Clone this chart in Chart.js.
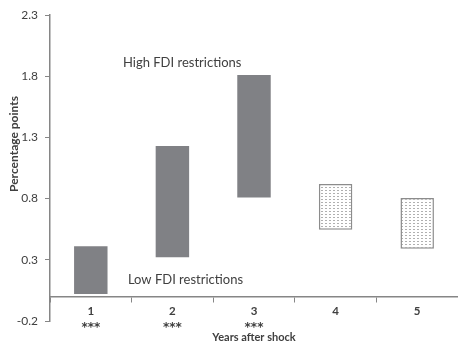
<!DOCTYPE html>
<html>
<head>
<meta charset="utf-8">
<script src="https://cdn.jsdelivr.net/npm/chart.js@4/dist/chart.umd.min.js"></script>
<style>
  html, body { margin: 0; padding: 0; background: #ffffff; }
  #wrap { width: 458px; height: 343px; position: relative; }
</style>
</head>
<body>
<div id="wrap"><canvas id="chart" width="458" height="343"></canvas></div>
<script>
// Years after the shock, with significance stars under each year
const years = ['1', '2', '3', '4', '5'];
const significance = ['***', '***', '***', '', ''];

// Range of the effect: low-FDI-restriction end and high-FDI-restriction end
const lowRestriction = [0.02, 0.32, 0.81, 0.545, 0.39];
const highRestriction = [0.41, 1.23, 1.81, 0.92, 0.805];

// Whether the difference for that year is significant (solid) or not (dotted)
const solidBar = [true, true, true, false, false];

// Value axis ticks
const yTicks = [-0.2, 0.3, 0.8, 1.3, 1.8, 2.3];

const textColor = '#404040';
const axisColor = '#868686';
const barGray = '#808185';

// Dotted fill for the non-significant years
function dottedPattern() {
  const c = document.createElement('canvas');
  c.width = 4; c.height = 3;
  const g = c.getContext('2d');
  g.fillStyle = '#ffffff';
  g.fillRect(0, 0, 4, 3);
  g.fillStyle = '#b0b0b0';
  g.fillRect(1, 1, 2, 1);
  return g.createPattern(c, 'repeat');
}
const dots = dottedPattern();

const ranges = years.map((y, i) => [lowRestriction[i], highRestriction[i]]);

// Text labels at the ends of the ranges, significance stars and the y-axis title
const notesPlugin = {
  id: 'notes',
  afterDraw(chart) {
    const { ctx, scales } = chart;
    ctx.save();
    ctx.fillStyle = textColor;
    ctx.textAlign = 'center';
    ctx.textBaseline = 'middle';
    ctx.font = '13px Lato';
    ctx.fillText('High FDI restrictions', scales.x.getPixelForValue(1.12), scales.y.getPixelForValue(1.91));
    ctx.fillText('Low FDI restrictions', scales.x.getPixelForValue(1.16), scales.y.getPixelForValue(0.135));

    ctx.font = 'bold 12px "DejaVu Sans"';
    ctx.textBaseline = 'alphabetic';
    const starY = scales.y.getPixelForValue(0) + 34;
    significance.forEach((s, i) => {
      if (s) ctx.fillText(s, scales.x.getPixelForValue(i), starY);
    });

    ctx.textBaseline = 'middle';
    ctx.translate(14, 144);
    ctx.rotate(-Math.PI / 2);
    ctx.font = 'bold 12px Lato';
    ctx.fillText('Percentage points', 0, 0);
    ctx.restore();
  }
};

new Chart(document.getElementById('chart'), {
  type: 'bar',
  data: {
    labels: years,
    datasets: [{
      data: ranges,
      backgroundColor: solidBar.map(s => s ? barGray : dots),
      borderColor: solidBar.map(s => s ? barGray : '#8c8c8c'),
      borderWidth: solidBar.map(s => s ? 0 : 1.5),
      borderSkipped: false,
      barPercentage: 0.41,
      categoryPercentage: 1.0
    }]
  },
  options: {
    responsive: false,
    animation: false,
    devicePixelRatio: 1,
    layout: { padding: { top: 15, bottom: 22, left: 0, right: 0 } },
    plugins: {
      legend: { display: false },
      tooltip: { enabled: false }
    },
    scales: {
      x: {
        position: { y: 0 },
        offset: true,
        grid: {
          offset: true,
          drawOnChartArea: false,
          drawTicks: true,
          tickLength: 5,
          color: axisColor
        },
        border: { color: axisColor, width: 1.5 },
        ticks: {
          color: textColor,
          font: { family: 'Lato', size: 11.5, weight: 'bold', lineHeight: 1.2 },
          padding: 3,
          maxRotation: 0
        },
        title: {
          display: true,
          text: 'Years after shock',
          color: textColor,
          font: { family: 'Lato', size: 11, weight: 'bold' },
          padding: { top: 9.5, bottom: 0 }
        }
      },
      y: {
        min: yTicks[0],
        max: yTicks[yTicks.length - 1],
        afterBuildTicks: s => { s.ticks = yTicks.map(v => ({ value: v })); },
        afterFit: s => { s.width = 50; },
        grid: {
          drawOnChartArea: false,
          drawTicks: true,
          tickLength: 5,
          color: axisColor
        },
        border: { color: axisColor, width: 1.5 },
        ticks: {
          color: textColor,
          font: { family: 'Lato', size: 12 },
          padding: 7,
          callback: v => v.toFixed(1)
        }
      }
    }
  },
  plugins: [notesPlugin]
});
</script>
</body>
</html>
